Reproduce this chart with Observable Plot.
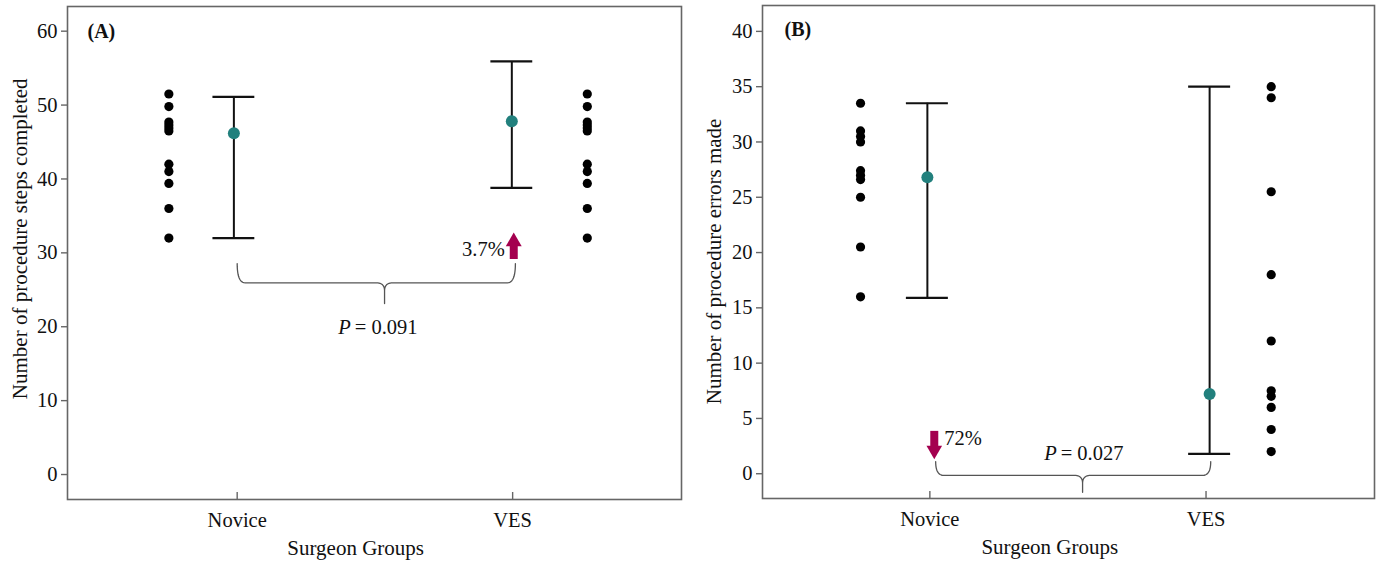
<!DOCTYPE html>
<html><head><meta charset="utf-8">
<style>
html,body{margin:0;padding:0;background:#fff;}
#wrap{display:flex;width:1383px;height:564px;overflow:hidden;}
#wrap svg{display:block;}
</style>
<script src="https://cdn.jsdelivr.net/npm/d3@7"></script>
<script src="https://cdn.jsdelivr.net/npm/@observablehq/plot@0.6"></script>
</head><body><div id="wrap"></div>
<script>
// ---- shared categories ----
const groups = ["Novice", "VES"];
const groupX = [1, 2];
const xLabel = "Surgeon Groups";

// ---- Panel A: procedure steps completed ----
const stepsNovice = [51.5, 49.8, 47.7, 47.3, 46.9, 46.5, 42.0, 41.0, 39.4, 36.0, 32.0];
const stepsVES    = [51.5, 49.8, 47.7, 47.3, 46.9, 46.5, 42.0, 41.0, 39.4, 36.0, 32.0];
const stepsMean = [46.2, 47.8];
const stepsLow  = [32.0, 38.8];
const stepsHigh = [51.1, 55.9];
const stepsTicks = [0, 10, 20, 30, 40, 50, 60];
const stepsLabel = "Number of procedure steps completed";
const stepsChange = "3.7%";
const stepsP = "0.091";

// ---- Panel B: procedure errors made ----
const errorsNovice = [33.5, 31.0, 30.5, 30.0, 27.4, 27.0, 26.6, 25.0, 20.5, 16.0];
const errorsVES    = [35.0, 34.0, 25.5, 18.0, 12.0, 7.5, 7.0, 6.0, 4.0, 2.0];
const errorsMean = [26.8, 7.2];
const errorsLow  = [15.9, 1.8];
const errorsHigh = [33.5, 35.0];
const errorsTicks = [0, 5, 10, 15, 20, 25, 30, 35, 40];
const errorsLabel = "Number of procedure errors made";
const errorsChange = "72%";
const errorsP = "0.027";

const FONT = "'Liberation Serif', 'DejaVu Serif', serif";
const TEAL = "#22807d";
const CRIMSON = "#a4004f";
const FRAME = "#666";

function quad(p0, c, p1, n = 12) {
  const out = [];
  for (let i = 0; i <= n; i++) {
    const t = i / n, u = 1 - t;
    out.push({x: u*u*p0[0] + 2*u*t*c[0] + t*t*p1[0], y: u*u*p0[1] + 2*u*t*c[1] + t*t*p1[1]});
  }
  return out;
}
function bracket(b) {
  const {x0, x1, xc, yTop, yH, yCusp, dx, dy} = b;
  return [
    ...quad([x0, yTop], [x0, yH], [x0 + dx, yH]),
    ...quad([xc - dx, yH], [xc, yH], [xc, yH - dy]),
    {x: xc, y: yCusp},
    ...quad([xc, yH - dy], [xc, yH], [xc + dx, yH]),
    ...quad([x1 - dx, yH], [x1, yH], [x1, yTop])
  ];
}

function panel(cfg) {
  const rows = groups.map((g, i) => ({g, x: cfg.barX[i], mean: cfg.mean[i], low: cfg.low[i], high: cfg.high[i]}));
  const raw = [
    ...cfg.novice.map(v => ({x: cfg.dotX[0], y: v})),
    ...cfg.ves.map(v => ({x: cfg.dotX[1], y: v}))
  ];
  const cap = 0.076;
  const innerH = cfg.height - cfg.marginTop - cfg.marginBottom;
  const br = bracket(cfg.bracket);
  const a = cfg.arrow;
  return Plot.plot({
    width: cfg.width, height: cfg.height,
    marginLeft: cfg.marginLeft, marginRight: cfg.marginRight,
    marginTop: cfg.marginTop, marginBottom: cfg.marginBottom,
    style: {fontFamily: FONT, fontSize: "20px", color: "#111", background: "#fff"},
    x: {type: "linear", domain: cfg.xDomain},
    y: {domain: cfg.yDomain},
    marks: [
      Plot.frame({stroke: FRAME, strokeWidth: 1.6}),
      Plot.axisY({ticks: cfg.ticks, tickSize: 6, tickPadding: 4, stroke: FRAME, strokeWidth: 1.4, fontSize: 20.5, label: null}),
      Plot.axisX({ticks: groupX, tickFormat: d => groups[d - 1], tickSize: 0, tickPadding: 13, fontSize: 20.5, label: null}),
      Plot.tickX(groupX, {x: d => d, insetTop: innerH - 7, stroke: FRAME, strokeWidth: 1.4}),
      Plot.text([cfg.yLabel], {text: d => d, frameAnchor: "left", y: cfg.yLabelY, dx: -cfg.yLabelDx, rotate: -90, fontSize: 21, textAnchor: "middle"}),
      Plot.text([xLabel], {text: d => d, x: cfg.xLabelX, frameAnchor: "bottom", dy: 49, lineAnchor: "middle", fontSize: 21}),
      Plot.text([cfg.tag], {text: d => d, frameAnchor: "top-left", dx: cfg.tagDx, dy: cfg.tagDy, lineAnchor: "middle", fontWeight: "bold", fontSize: 20, textAnchor: "start"}),
      // error bars
      Plot.ruleX(rows, {x: "x", y1: "low", y2: "high", stroke: "#111", strokeWidth: 2}),
      Plot.ruleY(rows, {y: "high", x1: d => d.x - cap, x2: d => d.x + cap, stroke: "#111", strokeWidth: 2.2}),
      Plot.ruleY(rows, {y: "low", x1: d => d.x - cap, x2: d => d.x + cap, stroke: "#111", strokeWidth: 2.2}),
      Plot.dot(rows, {x: "x", y: "mean", r: 6, fill: TEAL}),
      // raw observations
      Plot.dot(raw, {x: "x", y: "y", r: 4.6, fill: "#000"}),
      // bracket & p value
      Plot.line(br, {x: "x", y: "y", stroke: "#555", strokeWidth: 1.3, curve: "linear"}),
      Plot.text(["P"], {text: d => d, x: cfg.pX, y: cfg.pY, textAnchor: "end", dx: -3, fontStyle: "italic", fontSize: 20.5}),
      Plot.text([`= ${cfg.p}`], {text: d => d, x: cfg.pX, y: cfg.pY, textAnchor: "start", dx: 1, fontSize: 20.5}),
      // change arrow
      Plot.ruleX([0], {x: a.x, y1: a.y1, y2: a.y2, stroke: CRIMSON, strokeWidth: 8}),
      Plot.dot([0], {x: a.x, y: a.headY, symbol: "triangle", r: a.r, fill: CRIMSON, rotate: a.rotate}),
      Plot.text([cfg.change], {text: d => d, x: a.x, y: a.textY, dx: a.textDx, textAnchor: a.textAnchor, fontSize: 20.5})
    ]
  });
}

const A = panel({
  width: 690, height: 564, marginLeft: 67, marginRight: 9, marginTop: 6, marginBottom: 65,
  xDomain: [0.384, 2.613], yDomain: [-3.38, 63.34], ticks: stepsTicks,
  barX: [0.988, 1.997], dotX: [0.752, 2.271],
  novice: stepsNovice, ves: stepsVES, mean: stepsMean, low: stepsLow, high: stepsHigh,
  yLabel: stepsLabel, yLabelY: 31.9, yLabelDx: 47, xLabelX: 1.43,
  tag: "(A)", tagDx: 20, tagDy: 25,
  bracket: {x0: 1.0, x1: 2.01, xc: 1.535, yTop: 28.55, yH: 25.94, yCusp: 23.14, dx: 0.029, dy: 1.08},
  p: stepsP, pX: 1.423, pY: 19.85,
  change: stepsChange,
  arrow: {x: 2.004, y1: 29.1, y2: 31.3, headY: 31.5, r: 5.9, rotate: 0, textY: 30.4, textDx: -9, textAnchor: "end"}
});

const B = panel({
  width: 693, height: 564, marginLeft: 72, marginRight: 9, marginTop: 5, marginBottom: 66,
  xDomain: [0.394, 2.610], yDomain: [-2.24, 42.34], ticks: errorsTicks,
  barX: [0.991, 2.013], dotX: [0.749, 2.236],
  novice: errorsNovice, ves: errorsVES, mean: errorsMean, low: errorsLow, high: errorsHigh,
  yLabel: errorsLabel, yLabelY: 19.2, yLabelDx: 48, xLabelX: 1.434,
  tag: "(B)", tagDx: 22, tagDy: 24,
  bracket: {x0: 1.021, x1: 2.017, xc: 1.553, yTop: 1.1, yH: -0.15, yCusp: -1.68, dx: 0.029, dy: 0.72},
  p: errorsP, pX: 1.47, pY: 1.87,
  change: errorsChange,
  arrow: {x: 1.016, y1: 3.83, y2: 2.3, headY: 2.12, r: 5.8, rotate: 180, textY: 3.18, textDx: 10, textAnchor: "start"}
});

const wrap = document.getElementById("wrap");
wrap.append(A, B);
</script>
</body></html>
